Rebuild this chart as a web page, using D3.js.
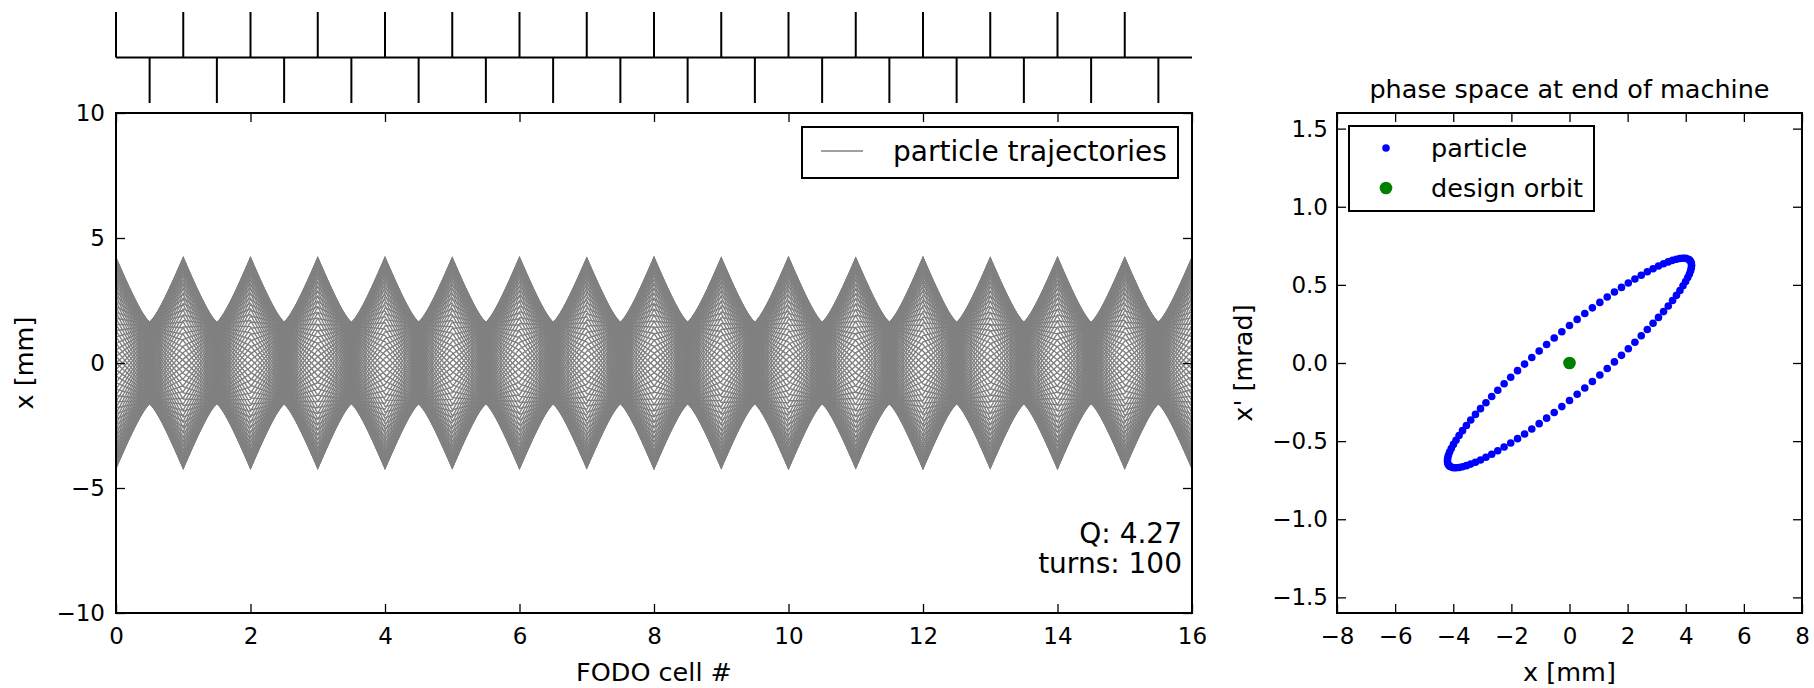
<!DOCTYPE html>
<html>
<head>
<meta charset="utf-8">
<script src="https://cdn.jsdelivr.net/npm/d3@7"></script>
<style>
  body { margin: 0; background: #fff; }
  text { font-family: "DejaVu Sans", sans-serif; fill: #000; }
</style>
</head>
<body>
<div id="chart"></div>
<script>
// FODO lattice: F quads at each whole cell, D quads half a cell later
const fQuads = [0, 1, 2, 3, 4, 5, 6, 7, 8, 9, 10, 11, 12, 13, 14, 15];
const dQuads = [0.5, 1.5, 2.5, 3.5, 4.5, 5.5, 6.5, 7.5, 8.5, 9.5, 10.5, 11.5, 12.5, 13.5, 14.5, 15.5];
const nCells = 16;
const cellLength = 10;      // m
const focalLength = 3.362;  // m, thin lens
const tune = 4.27;
const turns = 100;

// phase space at end of machine, one point per turn (x [mm], x' [mrad])
const particleX = [
  4.200, 4.192, 4.167, 4.126, 4.068, 3.994, 3.905, 3.800, 3.681, 3.546,
  3.398, 3.236, 3.062, 2.875, 2.677, 2.469, 2.250, 2.023, 1.788, 1.546,
  1.298, 1.044, 0.787, 0.526, 0.264, 0.000, -0.264, -0.526, -0.787, -1.044,
  -1.298, -1.546, -1.788, -2.023, -2.250, -2.469, -2.677, -2.875, -3.062, -3.236,
  -3.398, -3.546, -3.681, -3.800, -3.905, -3.994, -4.068, -4.126, -4.167, -4.192,
  -4.200, -4.192, -4.167, -4.126, -4.068, -3.994, -3.905, -3.800, -3.681, -3.546,
  -3.398, -3.236, -3.062, -2.875, -2.677, -2.469, -2.250, -2.023, -1.788, -1.546,
  -1.298, -1.044, -0.787, -0.526, -0.264, 0.000, 0.264, 0.526, 0.787, 1.044,
  1.298, 1.546, 1.788, 2.023, 2.250, 2.469, 2.677, 2.875, 3.062, 3.236,
  3.398, 3.546, 3.681, 3.800, 3.905, 3.994, 4.068, 4.126, 4.167, 4.192
];
const particleXp = [
  0.626, 0.610, 0.591, 0.570, 0.547, 0.521, 0.494, 0.464, 0.433, 0.400,
  0.365, 0.329, 0.292, 0.254, 0.214, 0.174, 0.133, 0.091, 0.049, 0.007,
  -0.035, -0.077, -0.118, -0.160, -0.200, -0.240, -0.279, -0.317, -0.353, -0.388,
  -0.422, -0.454, -0.484, -0.512, -0.538, -0.562, -0.584, -0.603, -0.621, -0.635,
  -0.647, -0.657, -0.664, -0.669, -0.670, -0.670, -0.666, -0.660, -0.651, -0.640,
  -0.626, -0.610, -0.591, -0.570, -0.547, -0.521, -0.494, -0.464, -0.433, -0.400,
  -0.365, -0.329, -0.292, -0.254, -0.214, -0.174, -0.133, -0.091, -0.049, -0.007,
  0.035, 0.077, 0.118, 0.160, 0.200, 0.240, 0.279, 0.317, 0.353, 0.388,
  0.422, 0.454, 0.484, 0.512, 0.538, 0.562, 0.584, 0.603, 0.621, 0.635,
  0.647, 0.657, 0.664, 0.669, 0.670, 0.670, 0.666, 0.660, 0.651, 0.640
];
const designOrbit = [{x: 0, xp: 0}];

// ticks
const cellTicks = [0, 2, 4, 6, 8, 10, 12, 14, 16];
const posTicks = [-10, -5, 0, 5, 10];
const phaseXTicks = [-8, -6, -4, -2, 0, 2, 4, 6, 8];
const phaseYTicks = [-1.5, -1.0, -0.5, 0.0, 0.5, 1.0, 1.5];

const W = 1814, H = 688;
const svg = d3.select("#chart").append("svg")
  .attr("width", W).attr("height", H);

// left plot
const L = {left: 116, right: 1192, top: 113, bottom: 613};
const x = d3.scaleLinear().domain([0, 16]).range([L.left, L.right]);
const y = d3.scaleLinear().domain([-10, 10]).range([L.bottom, L.top]);

// right plot
const R = {left: 1337, right: 1802, top: 113, bottom: 613};
const px = d3.scaleLinear().domain([-8, 8]).range([R.left, R.right]);
const py = d3.scaleLinear().domain([-1.6, 1.6]).range([R.bottom, R.top]);

// track each turn's particle through the thin-lens lattice
function track(x0, xp0) {
  const pts = [];
  let xx = x0, xp = xp0;
  for (let c = 0; c < nCells; c++) {
    pts.push([fQuads[c], xx]);
    xp -= xx / focalLength;
    xx += xp * cellLength / 2;
    pts.push([dQuads[c], xx]);
    xp += xx / focalLength;
    xx += xp * cellLength / 2;
  }
  pts.push([nCells, xx]);
  return pts;
}
const trajectories = particleX.map((v, i) => track(v, particleXp[i]));

const line = d3.line().x(d => x(d[0])).y(d => y(d[1]));
svg.append("g").selectAll("path")
  .data(trajectories)
  .join("path")
    .attr("d", line)
    .attr("fill", "none")
    .attr("stroke", "#808080")
    .attr("stroke-width", 1.4);

// lattice sketch on top
const latY = d3.scaleLinear().domain([-1, 1]).range([103, 12]);
const lat = svg.append("g").attr("stroke", "#000").attr("stroke-width", 2);
lat.append("line")
  .attr("x1", x(0)).attr("x2", x(16))
  .attr("y1", latY(0)).attr("y2", latY(0));
lat.selectAll(".fq").data(fQuads).join("line")
  .attr("x1", d => x(d)).attr("x2", d => x(d))
  .attr("y1", latY(0)).attr("y2", latY(1));
lat.selectAll(".dq").data(dQuads).join("line")
  .attr("x1", d => x(d)).attr("x2", d => x(d))
  .attr("y1", latY(0)).attr("y2", latY(-1));

// phase space
svg.append("g").selectAll("circle")
  .data(particleX)
  .join("circle")
    .attr("cx", d => px(d))
    .attr("cy", (d, i) => py(particleXp[i]))
    .attr("r", 3.8)
    .attr("fill", "#0000ff");
svg.append("g").selectAll("circle")
  .data(designOrbit)
  .join("circle")
    .attr("cx", d => px(d.x))
    .attr("cy", d => py(d.xp))
    .attr("r", 6.3)
    .attr("fill", "#008000");

// axes with inward ticks on all sides
function frame(box, xs, ys, xt, yt, yfmt, ypad) {
  const tick = 9;
  const style = g => {
    g.attr("font-size", 23).attr("font-family", "DejaVu Sans");
    g.select(".domain").remove();
    g.selectAll(".tick line").attr("stroke-width", 1.3);
  };
  svg.append("g").attr("transform", `translate(0,${box.bottom})`)
    .call(d3.axisBottom(xs).tickValues(xt).tickSizeInner(-tick).tickSizeOuter(0).tickPadding(15).tickFormat(d3.format("d")))
    .call(style);
  svg.append("g").attr("transform", `translate(0,${box.top})`)
    .call(d3.axisTop(xs).tickValues(xt).tickSizeInner(-tick).tickSizeOuter(0).tickFormat(""))
    .call(style);
  svg.append("g").attr("transform", `translate(${box.left},0)`)
    .call(d3.axisLeft(ys).tickValues(yt).tickSizeInner(-tick).tickSizeOuter(0).tickPadding(ypad).tickFormat(yfmt))
    .call(style);
  svg.append("g").attr("transform", `translate(${box.right},0)`)
    .call(d3.axisRight(ys).tickValues(yt).tickSizeInner(-tick).tickSizeOuter(0).tickFormat(""))
    .call(style);
  svg.append("rect")
    .attr("x", box.left).attr("y", box.top)
    .attr("width", box.right - box.left).attr("height", box.bottom - box.top)
    .attr("fill", "none").attr("stroke", "#000").attr("stroke-width", 2);
}
frame(L, x, y, cellTicks, posTicks, d3.format("d"), 11);
frame(R, px, py, phaseXTicks, phaseYTicks, d3.format(".1f"), 9);

// labels
svg.append("text").attr("x", (L.left + L.right) / 2).attr("y", 681)
  .attr("text-anchor", "middle").attr("font-size", 25.5).text("FODO cell #");
svg.append("text").attr("transform", `translate(33,${(L.top + L.bottom) / 2}) rotate(-90)`)
  .attr("text-anchor", "middle").attr("font-size", 25.5).text("x [mm]");
svg.append("text").attr("x", (R.left + R.right) / 2).attr("y", 681)
  .attr("text-anchor", "middle").attr("font-size", 25.5).text("x [mm]");
svg.append("text").attr("transform", `translate(1252,${(R.top + R.bottom) / 2}) rotate(-90)`)
  .attr("text-anchor", "middle").attr("font-size", 25.5).text("x' [mrad]");
svg.append("text").attr("x", (R.left + R.right) / 2).attr("y", 98)
  .attr("text-anchor", "middle").attr("font-size", 25.5).text("phase space at end of machine");

// Q and turns note
svg.append("text").attr("x", L.right - 10).attr("y", 543)
  .attr("text-anchor", "end").attr("font-size", 28).text(`Q: ${tune}`);
svg.append("text").attr("x", L.right - 10).attr("y", 573)
  .attr("text-anchor", "end").attr("font-size", 28).text(`turns: ${turns}`);

// legend, left
const lg1 = svg.append("g");
lg1.append("rect").attr("x", 802).attr("y", 127).attr("width", 376).attr("height", 51)
  .attr("fill", "#fff").attr("stroke", "#000").attr("stroke-width", 2);
lg1.append("line").attr("x1", 821).attr("x2", 863).attr("y1", 151).attr("y2", 151)
  .attr("stroke", "#808080").attr("stroke-width", 1.6);
lg1.append("text").attr("x", 893).attr("y", 161).attr("font-size", 28).text("particle trajectories");

// legend, right
const lg2 = svg.append("g");
lg2.append("rect").attr("x", 1349).attr("y", 126).attr("width", 245).attr("height", 85)
  .attr("fill", "#fff").attr("stroke", "#000").attr("stroke-width", 2);
lg2.append("circle").attr("cx", 1386).attr("cy", 148).attr("r", 3.8).attr("fill", "#0000ff");
lg2.append("circle").attr("cx", 1386).attr("cy", 188).attr("r", 6.3).attr("fill", "#008000");
lg2.append("text").attr("x", 1431).attr("y", 157).attr("font-size", 25.5).text("particle");
lg2.append("text").attr("x", 1431).attr("y", 197).attr("font-size", 25.5).text("design orbit");
</script>
</body>
</html>
